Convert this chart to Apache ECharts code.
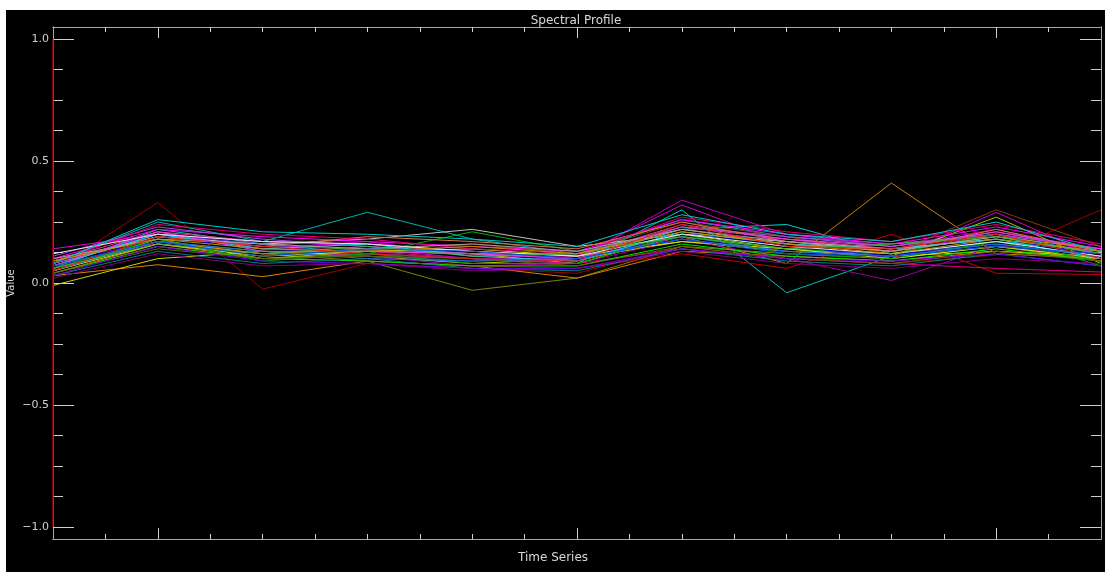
<!DOCTYPE html>
<html>
<head>
<meta charset="utf-8">
<script src="https://cdn.jsdelivr.net/npm/echarts@6/dist/echarts.min.js"></script>
<style>
html,body{margin:0;padding:0;background:#ffffff;width:1105px;height:572px;overflow:hidden;}
#chart{position:absolute;left:6px;top:10px;width:1099px;height:562px;background:#000000;}
</style>
</head>
<body>
<div id="chart"></div>
<script>
// ---- data ----
const xValues = [0,1,2,3,4,5,6,7,8,9,10];
const xMajorTicks = [1,5,9];
const xMinorTicks = [0.5,1,1.5,2,2.5,3,3.5,4,4.5,5,5.5,6,6.5,7,7.5,8,8.5,9,9.5];
const yMajorTicks = [-1,-0.5,0,0.5,1];
const yMinorTicks = [-0.875,-0.75,-0.625,-0.375,-0.25,-0.125,0.125,0.25,0.375,0.625,0.75,0.875];
const redMarkerY = [-1, 1];

const s01 = [0.05,0.33,-0.025,0.08,0.06,0.04,0.15,0.10,0.08,0.115,0.30];
const s02 = [0.08,0.25,0.17,0.29,0.18,0.12,0.26,0.19,0.16,0.20,0.12];
const s03 = [0.06,0.22,0.16,0.12,0.10,0.08,0.30,-0.04,0.11,0.15,0.10];
const s04 = [0.07,0.20,0.14,0.13,0.12,0.10,0.22,0.24,0.12,0.17,0.13];
const s05 = [0.04,0.16,0.10,0.12,0.10,0.09,0.19,0.08,0.41,0.12,0.10];
const s06 = [0.05,0.17,0.12,0.09,-0.03,0.02,0.15,0.12,0.10,0.15,0.09];
const s07 = [0.03,0.075,0.026,0.09,0.07,0.02,0.13,0.11,0.09,0.13,0.10];
const s08 = [-0.01,0.10,0.13,0.11,0.08,0.10,0.17,0.13,0.11,0.13,0.11];
const s09 = [0.14,0.20,0.17,0.15,0.12,0.10,0.20,0.18,0.13,0.20,0.14];
const s10 = [0.06,0.17,0.13,0.11,0.07,0.08,0.18,0.10,0.01,0.155,0.10];
const s11 = [0.08,0.20,0.15,0.14,0.10,0.10,0.34,0.20,0.15,0.22,0.12];
const s12 = [0.09,0.19,0.15,0.14,0.16,0.12,0.25,0.19,0.12,0.30,0.15];
const s13 = [0.07,0.21,0.14,0.17,0.11,0.11,0.32,0.16,0.10,0.29,0.10];
const s14 = [0.05,0.18,0.10,0.13,0.12,0.08,0.20,0.14,0.11,0.27,0.08];
const s15 = [0.04,0.15,0.10,0.09,0.07,0.06,0.12,0.06,0.20,0.04,0.035];
const s16 = [0.10,0.16,0.12,0.13,0.10,0.08,0.14,0.10,0.08,0.06,0.045];
const s17 = [0.08,0.19,0.16,0.18,0.22,0.15,0.20,0.17,0.14,0.18,0.12];
const s18 = [0.06,0.17,0.13,0.12,0.21,0.13,0.19,0.14,0.12,0.20,0.07];
const s19 = [0.06,0.19,0.14,0.12,0.10,0.09,0.21,0.15,0.11,0.18,0.12];
const s20 = [0.09,0.21,0.17,0.16,0.13,0.11,0.24,0.18,0.14,0.21,0.13];
const s21 = [0.04,0.15,0.10,0.09,0.07,0.07,0.16,0.11,0.09,0.14,0.09];
const s22 = [0.07,0.17,0.12,0.14,0.12,0.12,0.22,0.16,0.13,0.19,0.14];
const s23 = [0.10,0.22,0.19,0.17,0.15,0.13,0.26,0.20,0.16,0.23,0.15];
const s24 = [0.03,0.13,0.08,0.10,0.06,0.05,0.14,0.09,0.07,0.12,0.07];
const s25 = [0.08,0.20,0.16,0.11,0.09,0.10,0.19,0.13,0.12,0.16,0.11];
const s26 = [0.05,0.16,0.11,0.13,0.14,0.11,0.17,0.14,0.10,0.15,0.10];
const s27 = [0.11,0.23,0.18,0.15,0.12,0.12,0.23,0.19,0.15,0.20,0.14];
const s28 = [0.06,0.18,0.09,0.12,0.08,0.08,0.20,0.12,0.10,0.17,0.09];
const s29 = [0.09,0.19,0.15,0.19,0.17,0.14,0.25,0.17,0.13,0.22,0.13];
const s30 = [0.02,0.12,0.07,0.08,0.05,0.06,0.13,0.08,0.06,0.10,0.08];
const s31 = [0.07,0.20,0.14,0.16,0.11,0.09,0.21,0.16,0.14,0.18,0.10];
const s32 = [0.08,0.24,0.20,0.18,0.14,0.12,0.27,0.21,0.17,0.24,0.16];
const s33 = [0.05,0.17,0.13,0.10,0.09,0.10,0.18,0.13,0.11,0.16,0.11];
const s34 = [0.10,0.18,0.16,0.14,0.16,0.13,0.22,0.17,0.13,0.19,0.12];
const s35 = [0.04,0.14,0.10,0.11,0.10,0.07,0.15,0.10,0.08,0.13,0.09];
const s36 = [0.07,0.21,0.13,0.13,0.12,0.10,0.23,0.18,0.15,0.21,0.14];
const s37 = [0.12,0.20,0.17,0.16,0.13,0.11,0.20,0.15,0.12,0.17,0.11];
const s38 = [0.06,0.16,0.12,0.15,0.11,0.12,0.19,0.14,0.16,0.19,0.12];
const s39 = [0.08,0.26,0.21,0.20,0.18,0.15,0.28,0.20,0.17,0.25,0.13];
const s40 = [0.03,0.15,0.09,0.08,0.06,0.06,0.14,0.10,0.09,0.12,0.07];
const s41 = [0.09,0.18,0.14,0.13,0.15,0.12,0.21,0.16,0.12,0.18,0.13];
const s42 = [0.05,0.19,0.15,0.12,0.10,0.09,0.24,0.15,0.14,0.20,0.10];
const s43 = [0.07,0.17,0.11,0.14,0.13,0.10,0.18,0.12,0.11,0.15,0.12];

const seriesValues = [s01,s02,s03,s04,s05,s06,s07,s08,s09,s10,s11,s12,s13,s14,s15,s16,s17,s18,s19,s20,s21,s22,s23,s24,s25,s26,s27,s28,s29,s30,s31,s32,s33,s34,s35,s36,s37,s38,s39,s40,s41,s42,s43];
const seriesColors = [
 '#a00000','#00b0b0','#00c0c0','#00d0d0','#c88000','#808000','#e08000','#d0d000','#e000e0','#a000a0',
 '#c000c0','#804000','#d000d0','#90d000','#c00000','#e00080','#c0c0c0','#00b000','#0000e0','#e04090',
 '#00e000','#e09000','#ff00ff','#008080','#4040e0','#e0e000','#a050e0','#00a000','#e07040','#800080',
 '#00e0e0','#e00070','#2070e0','#a0a0a0','#606000','#e040e0','#e8e8e8','#40b040','#00c8c8','#7000e0',
 '#c09000','#e02020','#0050e0'
];

const chart = echarts.init(document.getElementById('chart'), null, {renderer:'canvas'});
const axisColor = '#a8a8a8';
const tickColor = '#d0d0d0';
const fmtY = v => (v < 0 ? '\u2212' : '') + Math.abs(v).toFixed(1);

const gridRect = {left:47, right:4, top:17, bottom:33, containLabel:false, outerBoundsMode:'none'};
const series = seriesValues.map((vals,i)=>({
  type:'line', xAxisIndex:0, yAxisIndex:0,
  data: xValues.map((x,j)=>[x, vals[j]]),
  showSymbol:false, symbol:'none', silent:true,
  lineStyle:{width:1, color:seriesColors[i % seriesColors.length]},
  itemStyle:{color:seriesColors[i % seriesColors.length]},
  z:2
}));
series.push({
  type:'line', xAxisIndex:0, yAxisIndex:0,
  data: redMarkerY.map(y=>[xValues[0], y]),
  showSymbol:false, symbol:'none', silent:true, clip:false,
  lineStyle:{width:1.5, color:'#b00000'}, z:5
});

const baseX = {type:'value', min:0, max:10, splitLine:{show:false}, axisLabel:{show:false},
  axisLine:{show:true, onZero:false, lineStyle:{color:axisColor, width:1}}};
const baseY = {type:'value', min:-1.05, max:1.05, splitLine:{show:false},
  axisLine:{show:true, onZero:false, lineStyle:{color:axisColor, width:1}}};

chart.setOption({
  backgroundColor:'#000000',
  animation:false,
  title:[
    {text:'Spectral Profile', left:565, textAlign:'center', top:0,
      textStyle:{color:'#d8d8d8', fontSize:12, fontWeight:'normal', fontFamily:'DejaVu Sans'}},
    {text:'Time Series', left:542, textAlign:'center', top:537,
      textStyle:{color:'#d8d8d8', fontSize:12, fontWeight:'normal', fontFamily:'DejaVu Sans'}}
  ],
  grid:[Object.assign({}, gridRect), Object.assign({}, gridRect)],
  xAxis:[
    Object.assign({}, baseX, {gridIndex:0, position:'bottom',
      axisTick:{show:true, inside:true, length:11, customValues:xMajorTicks, lineStyle:{color:tickColor}},
      axisLabel:{show:false, customValues:xMajorTicks}}),
    Object.assign({}, baseX, {gridIndex:0, position:'top',
      axisTick:{show:true, inside:true, length:11, customValues:xMajorTicks, lineStyle:{color:tickColor}},
      axisLabel:{show:false, customValues:xMajorTicks}}),
    Object.assign({}, baseX, {gridIndex:1, position:'bottom',
      axisTick:{show:true, inside:true, length:5, customValues:xMinorTicks, lineStyle:{color:tickColor}},
      axisLabel:{show:false, customValues:xMinorTicks}}),
    Object.assign({}, baseX, {gridIndex:1, position:'top',
      axisTick:{show:true, inside:true, length:5, customValues:xMinorTicks, lineStyle:{color:tickColor}},
      axisLabel:{show:false, customValues:xMinorTicks}})
  ],
  yAxis:[
    Object.assign({}, baseY, {gridIndex:0, position:'left',
      name:'Value', nameLocation:'middle', nameGap:37, nameRotate:90, nameMoveOverlap:false,
      nameTextStyle:{color:'#d8d8d8', fontSize:10, fontFamily:'DejaVu Sans'},
      axisTick:{show:true, inside:true, length:21, customValues:yMajorTicks, lineStyle:{color:tickColor}},
      axisLabel:{show:true, customValues:yMajorTicks, formatter:fmtY, margin:4,
        color:'#d0d0d0', fontSize:11, fontFamily:'DejaVu Sans'}}),
    Object.assign({}, baseY, {gridIndex:0, position:'right',
      axisTick:{show:true, inside:true, length:21, customValues:yMajorTicks, lineStyle:{color:tickColor}},
      axisLabel:{show:false, customValues:yMajorTicks}}),
    Object.assign({}, baseY, {gridIndex:1, position:'left',
      axisTick:{show:true, inside:true, length:10, customValues:yMinorTicks, lineStyle:{color:tickColor}},
      axisLabel:{show:false, customValues:yMinorTicks}}),
    Object.assign({}, baseY, {gridIndex:1, position:'right',
      axisTick:{show:true, inside:true, length:10, customValues:yMinorTicks, lineStyle:{color:tickColor}},
      axisLabel:{show:false, customValues:yMinorTicks}})
  ],
  series: series
});
</script>
</body>
</html>
